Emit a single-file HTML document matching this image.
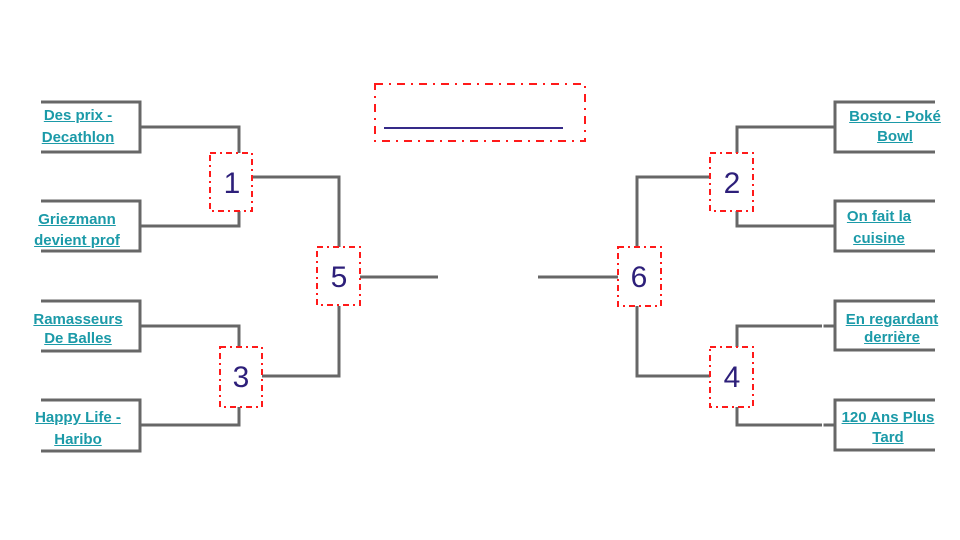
<!DOCTYPE html>
<html>
<head>
<meta charset="utf-8">
<style>
html,body{margin:0;padding:0;background:#fff;}
#wrap{position:relative;width:960px;height:540px;overflow:hidden;background:#fff;}
svg{position:absolute;left:0;top:0;}
.t{position:absolute;width:140px;text-align:center;font-family:"Liberation Sans",Arial,sans-serif;font-weight:bold;font-size:15px;line-height:17px;color:#1b9aa8;text-decoration:underline;white-space:nowrap;}
</style>
</head>
<body>
<div id="wrap">
<svg width="960" height="540" viewBox="0 0 960 540">
<g fill="none" stroke="#676767" stroke-width="3" stroke-linejoin="miter" stroke-linecap="butt">
<!-- left side -->
<path d="M41,102 H140 V152 H41"/>
<path d="M140,127 H239 V153"/>
<path d="M41,201 H140 V251 H41"/>
<path d="M140,226 H239 V211"/>
<path d="M252,177 H339 V247"/>
<path d="M41,301 H140 V351 H41"/>
<path d="M140,326 H239 V347"/>
<path d="M41,400 H140 V451 H41"/>
<path d="M140,425 H239 V407"/>
<path d="M262,376 H339 V306"/>
<path d="M360,277 H438"/>
<!-- right side -->
<path d="M935,102 H835 V152 H935"/>
<path d="M835,127 H737 V153"/>
<path d="M935,201 H835 V251 H935"/>
<path d="M835,226 H737 V211"/>
<path d="M710,177 H637 V247"/>
<path d="M935,301 H835 V350 H935"/>
<path d="M835,326 H737 V347"/>
<path d="M935,400 H835 V450 H935"/>
<path d="M835,425 H737 V407"/>
<path d="M710,376 H637 V306"/>
<path d="M618,277 H538"/>
</g>
<rect x="822" y="322" width="1.5" height="8" fill="#fff"/>
<rect x="822" y="421" width="1.5" height="8" fill="#fff"/>
<!-- red dash-dot boxes -->
<g fill="#fff" stroke="#ff1a1a" stroke-width="2" stroke-dasharray="6 4 2 4">
<rect x="210" y="153" width="42" height="58"/>
<rect x="710" y="153" width="43" height="58"/>
<rect x="220" y="347" width="42" height="60"/>
<rect x="710" y="347" width="43" height="60"/>
<rect x="317" y="247" width="43" height="58"/>
<rect x="618" y="247" width="43" height="59"/>
</g>
<rect x="375" y="84" width="210" height="57" fill="#fff" stroke="#ff1a1a" stroke-width="2" stroke-dasharray="8 6 2 6"/>
<line x1="384" y1="128" x2="563" y2="128" stroke="#352a88" stroke-width="2"/>
<g font-family="Liberation Sans, Arial, sans-serif" font-size="30" fill="#2d1f7a" text-anchor="middle">
<text x="232" y="193">1</text>
<text x="732" y="193">2</text>
<text x="241" y="387">3</text>
<text x="732" y="387">4</text>
<text x="339" y="287">5</text>
<text x="639" y="287">6</text>
</g>
</svg>

<div class="t" style="left:8px;top:107px;">Des prix -</div>
<div class="t" style="left:8px;top:129px;">Decathlon</div>
<div class="t" style="left:7px;top:211px;">Griezmann</div>
<div class="t" style="left:7px;top:232px;">devient prof</div>
<div class="t" style="left:8px;top:311px;">Ramasseurs</div>
<div class="t" style="left:8px;top:330px;">De Balles</div>
<div class="t" style="left:8px;top:409px;">Happy Life -</div>
<div class="t" style="left:8px;top:431px;">Haribo</div>

<div class="t" style="left:825px;top:108px;">Bosto - Poké</div>
<div class="t" style="left:825px;top:128px;">Bowl</div>
<div class="t" style="left:809px;top:208px;">On fait la</div>
<div class="t" style="left:809px;top:230px;">cuisine</div>
<div class="t" style="left:822px;top:311px;">En regardant</div>
<div class="t" style="left:822px;top:329px;">derrière</div>
<div class="t" style="left:818px;top:409px;">120 Ans Plus</div>
<div class="t" style="left:818px;top:429px;">Tard</div>
</div>
</body>
</html>
